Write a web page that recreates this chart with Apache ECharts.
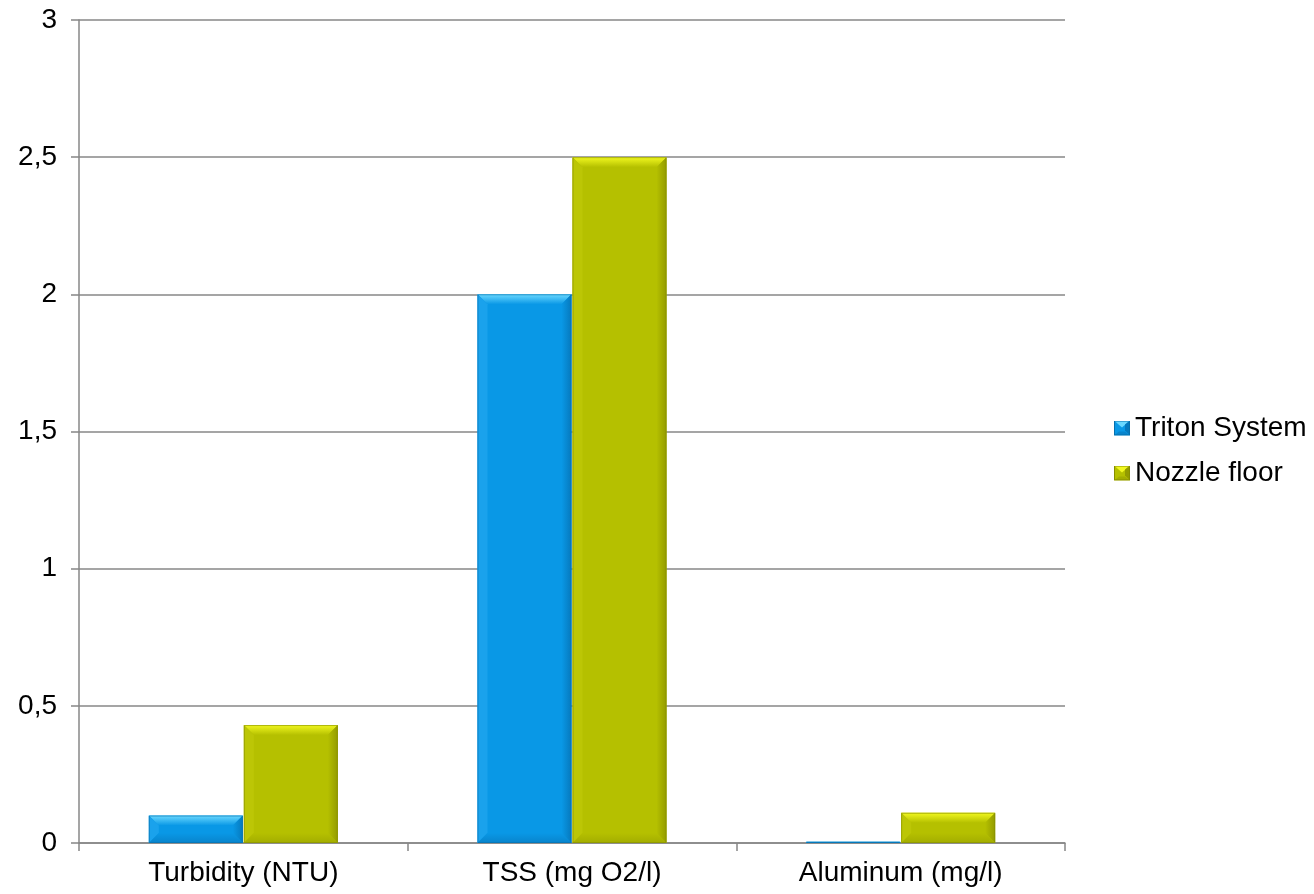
<!DOCTYPE html>
<html>
<head>
<meta charset="utf-8">
<title>Triton System vs Nozzle floor</title>
<script src="https://cdn.jsdelivr.net/npm/echarts@6/dist/echarts.min.js"></script>
<style>
  html, body { margin: 0; padding: 0; background: #ffffff; }
  #chart { width: 1314px; height: 894px; }
</style>
</head>
<body>
<div id="chart"></div>
<script>
// Categories and measured values
const categories = ['Turbidity (NTU)', 'TSS (mg O2/l)', 'Aluminum (mg/l)'];
const tritonValues = [0.1, 2, 0.005];
const nozzleValues = [0.43, 2.5, 0.11];
const seriesNames = ['Triton System', 'Nozzle floor'];

// Bevel palettes for each series
const palettes = [
  { main: '#0998e6', light: '#6ad8ff', left: '#1aa2ec', right: '#0679bd', bottom: '#0884cc', edge: '#0670ad' },
  { main: '#b5c000', light: '#f2f820', left: '#bcc606', right: '#939b00', bottom: '#a3ad00', edge: '#868d00' }
];

function legendIcon(p) {
  const svg = "<svg xmlns='http://www.w3.org/2000/svg' width='16' height='15'>" +
    "<rect width='16' height='15' fill='" + p.main + "'/>" +
    "<polygon points='0,0 16,0 8,7' fill='" + p.light + "'/>" +
    "<polygon points='16,0 16,15 11,10 11,4' fill='" + p.right + "'/>" +
    "<polygon points='0,15 16,15 11,11 5,11' fill='" + p.bottom + "'/>" +
    "<rect x='0.5' y='0.5' width='15' height='14' fill='none' stroke='" + p.edge + "' stroke-width='1'/>" +
    "</svg>";
  return 'image://data:image/svg+xml;charset=utf-8,' + encodeURIComponent(svg);
}

// Draws one beveled bar of a two-bar group
function makeRenderItem(seriesIdx) {
  const p = palettes[seriesIdx];
  return function (params, api) {
    const idx = api.value(0);
    const val = api.value(1);
    const topPt = api.coord([idx, val]);
    const basePt = api.coord([idx, 0]);
    const catW = api.size([1, 0])[0];
    const w = catW * 0.2875;
    const c = topPt[0];
    const x0 = seriesIdx === 0 ? c - w : c + 0.5;
    const x1 = seriesIdx === 0 ? c - 0.5 : c + w;
    const y0 = topPt[1];
    const y1 = basePt[1];
    const h = y1 - y0;
    const b = Math.min(10, h / 2, (x1 - x0) / 2);
    const children = [
      { type: 'rect', shape: { x: x0, y: y0, width: x1 - x0, height: h }, style: { fill: p.main } },
      { type: 'polygon', shape: { points: [[x0, y0], [x1, y0], [x1 - b, y0 + b], [x0 + b, y0 + b]] },
        style: { fill: new echarts.graphic.LinearGradient(0, 0, 0, 1, [
          { offset: 0, color: p.light }, { offset: 1, color: p.main }]) } },
      { type: 'polygon', shape: { points: [[x0, y0], [x0 + b, y0 + b], [x0 + b, y1 - b], [x0, y1]] },
        style: { fill: p.left } },
      { type: 'polygon', shape: { points: [[x1, y0], [x1 - b, y0 + b], [x1 - b, y1 - b], [x1, y1]] },
        style: { fill: new echarts.graphic.LinearGradient(1, 0, 0, 0, [
          { offset: 0, color: p.right }, { offset: 1, color: p.main }]) } },
      { type: 'polygon', shape: { points: [[x0, y1], [x1, y1], [x1 - b, y1 - b], [x0 + b, y1 - b]] },
        style: { fill: new echarts.graphic.LinearGradient(0, 1, 0, 0, [
          { offset: 0, color: p.bottom }, { offset: 1, color: p.main }]) } },
      { type: 'rect', shape: { x: x0 + 0.5, y: y0 + 0.5, width: Math.max(0, x1 - x0 - 1), height: Math.max(0, h - 1) },
        style: { fill: null, stroke: p.edge, lineWidth: 1, opacity: 0.6 } }
    ];
    return { type: 'group', children: children };
  };
}

const chart = echarts.init(document.getElementById('chart'), null, { renderer: 'canvas' });

const fontFamily = 'Liberation Sans, Arial, sans-serif';

chart.setOption({
  animation: false,
  backgroundColor: '#ffffff',
  grid: { left: 79, right: 249, top: 20, bottom: 51, containLabel: false },
  legend: {
    orient: 'vertical',
    left: 1109,
    top: 409,
    itemWidth: 16,
    itemHeight: 15,
    itemGap: 17,
    textStyle: { fontFamily: fontFamily, fontSize: 28, color: '#000000', padding: [0, 0, 0, 0] },
    data: [
      { name: seriesNames[0], icon: legendIcon(palettes[0]) },
      { name: seriesNames[1], icon: legendIcon(palettes[1]) }
    ]
  },
  xAxis: {
    type: 'category',
    data: categories,
    boundaryGap: true,
    axisLine: { show: true, lineStyle: { color: '#878787', width: 1.5 } },
    axisTick: { show: true, length: 8, lineStyle: { color: '#878787', width: 1.5 } },
    axisLabel: { fontFamily: fontFamily, fontSize: 28, color: '#000000', margin: 16 },
    splitLine: { show: false }
  },
  yAxis: {
    type: 'value',
    min: 0,
    max: 3,
    interval: 0.5,
    axisLine: { show: true, lineStyle: { color: '#878787', width: 1.5 } },
    axisTick: { show: true, length: 8, lineStyle: { color: '#878787', width: 1.5 } },
    axisLabel: {
      fontFamily: fontFamily, fontSize: 28, color: '#000000', margin: 22,
      formatter: function (v) { return String(v).replace('.', ','); }
    },
    splitLine: { show: true, lineStyle: { color: '#878787', width: 1.5 } }
  },
  series: [
    {
      name: seriesNames[0],
      type: 'custom',
      renderItem: makeRenderItem(0),
      itemStyle: { color: palettes[0].main },
      encode: { x: 0, y: 1 },
      data: tritonValues.map((v, i) => [i, v]),
      z: 3
    },
    {
      name: seriesNames[1],
      type: 'custom',
      renderItem: makeRenderItem(1),
      itemStyle: { color: palettes[1].main },
      encode: { x: 0, y: 1 },
      data: nozzleValues.map((v, i) => [i, v]),
      z: 3
    }
  ]
});
</script>
</body>
</html>
